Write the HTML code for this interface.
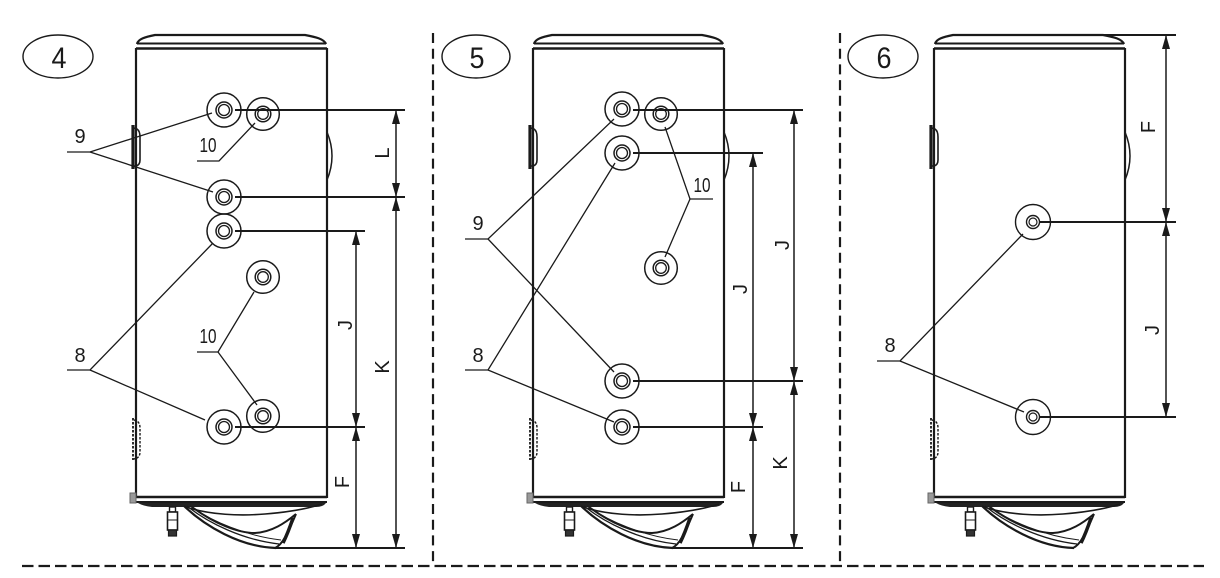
<!DOCTYPE html>
<html><head><meta charset="utf-8"><style>
html,body{margin:0;padding:0;background:#fff;}
svg{display:block;}
text{font-family:"Liberation Sans",Arial,sans-serif;fill:#1a1a1a;}
</style></head><body>
<svg width="1220" height="578" viewBox="0 0 1220 578" xmlns="http://www.w3.org/2000/svg">
<defs>
<g id="tank" fill="none" stroke="#1a1a1a">
  <!-- top cap -->
  <path d="M137,44 C138,39 145,37 155,35 L305,35 C316,37 324,39 326,44" stroke-width="2.2"/>
  <line x1="137" y1="43.5" x2="326" y2="43.5" stroke-width="2"/>
  <line x1="136" y1="48.5" x2="327" y2="48.5" stroke-width="2.6"/>
  <!-- walls -->
  <line x1="136" y1="48" x2="136" y2="498" stroke-width="2.2"/>
  <line x1="327" y1="48" x2="327" y2="498" stroke-width="2.2"/>
  <!-- bottom -->
  <line x1="136" y1="497" x2="327" y2="497" stroke-width="2.4"/>
  <line x1="131" y1="502" x2="327" y2="502" stroke-width="2"/>
  <rect x="130" y="493" width="6" height="10" fill="#999" stroke="#666" stroke-width="1"/>
  <path d="M138,503 L326,503 Q323,507 316,507 L152,507 Q143,506 138,503 Z" fill="#222" stroke="none"/>
  <!-- valve -->
  <rect x="169.5" y="507" width="6" height="5" fill="#fff" stroke-width="1.4"/>
  <rect x="167.5" y="512" width="10" height="18" fill="#fff" stroke-width="1.6"/>
  <line x1="167.5" y1="520" x2="177.5" y2="520" stroke-width="1"/>
  <rect x="168.5" y="530" width="8" height="6" fill="#333" stroke-width="1.2"/>
  <!-- bowl -->
  <path d="M184,506 C205,526 240,547 276,548" stroke-width="2.2"/>
  <path d="M187,506 C208,523 243,540 279,544" stroke-width="1.3"/>
  <path d="M190,506 C211,521 246,536 281,540" stroke-width="1"/>
  <path d="M192,507 C215,524 238,533 255,533 C272,532 285,523 296,514" stroke-width="2"/>
  <path d="M186,507 C210,515 240,516 265,514 C290,512 310,508 322,504" stroke-width="1.6"/>
  <path d="M275,548 C283,545 289,530 296,514" stroke-width="2"/>
  <path d="M283,543 C287,535 290,527 293,518" stroke-width="3.5"/>
  <!-- top-left handle -->
  <line x1="133" y1="125" x2="133" y2="169" stroke-width="3.2"/>
  <path d="M134,128 L137,129 Q140,131 140,137 L140,160 Q140,165 136,166 L134,166" stroke-width="1.6"/>
  <!-- right bump -->
  <path d="M327,132 Q337,156 327,180" stroke-width="1.5"/>
  <!-- bottom dashed handle -->
  <line x1="133" y1="418" x2="133" y2="460" stroke-width="1.8" stroke-dasharray="2.5 1.5"/>
  <path d="M134,420 Q140,421 140,428 L140,452 Q140,458 134,459" stroke-width="1.4" stroke-dasharray="2.5 1.5"/>
</g>
<g id="c1" fill="none" stroke="#1a1a1a">
  <circle r="17" stroke-width="1.5"/>
  <circle r="8" stroke-width="1.5"/>
  <circle r="5.5" stroke-width="1.3"/>
</g>
<g id="c2" fill="none" stroke="#1a1a1a">
  <circle r="16.3" stroke-width="1.5"/>
  <circle r="7.8" stroke-width="1.5"/>
  <circle r="5.3" stroke-width="1.3"/>
</g>
<g id="c3" fill="none" stroke="#1a1a1a">
  <circle r="17.5" stroke-width="1.4"/>
  <circle r="6.5" stroke-width="1.4"/>
  <circle r="4" stroke-width="1.2"/>
</g>
</defs>

<rect width="1220" height="578" fill="#fff"/>

<!-- tanks -->
<use href="#tank"/>
<use href="#tank" x="397"/>
<use href="#tank" x="798"/>

<!-- dashed separators -->
<g stroke="#1a1a1a" fill="none">
  <line x1="22" y1="566" x2="1204" y2="566" stroke-width="2.3" stroke-dasharray="11.5 5"/>
  <line x1="433" y1="33" x2="433" y2="566" stroke-width="2.2" stroke-dasharray="10 5.7"/>
  <line x1="840" y1="33" x2="840" y2="566" stroke-width="2.2" stroke-dasharray="10 5.7"/>
</g>

<!-- label ellipses -->
<g fill="none" stroke="#1a1a1a" stroke-width="1.4">
  <ellipse cx="58" cy="56.5" rx="35" ry="21.5"/>
  <ellipse cx="476" cy="56.5" rx="34" ry="21.5"/>
  <ellipse cx="883" cy="56.5" rx="35" ry="21.5"/>
</g>
<g font-size="30" text-anchor="middle">
  <text x="59" y="68" textLength="15" lengthAdjust="spacingAndGlyphs">4</text>
  <text x="477" y="68" textLength="15" lengthAdjust="spacingAndGlyphs">5</text>
  <text x="884" y="68" textLength="15" lengthAdjust="spacingAndGlyphs">6</text>
</g>

<!-- PANEL 1 -->
<g stroke="#1a1a1a" fill="none">
  <!-- extension lines -->
  <g stroke-width="2">
    <line x1="235" y1="110" x2="405" y2="110"/>
    <line x1="235" y1="197" x2="405" y2="197"/>
    <line x1="235" y1="231" x2="365" y2="231"/>
    <line x1="235" y1="427" x2="365" y2="427"/>
    <line x1="275" y1="548" x2="405" y2="548"/>
  </g>
  <!-- dimension lines -->
  <g stroke-width="1.5">
    <line x1="396" y1="110" x2="396" y2="548"/>
    <line x1="356" y1="231" x2="356" y2="548"/>
  </g>
  <!-- leaders -->
  <g stroke-width="1.3">
    <polyline points="67,152 90,152 212,113"/>
    <line x1="90" y1="152" x2="213" y2="192"/>
    <polyline points="197,161 219,161 255,123"/>
    <polyline points="197,352 218,352 254,292"/>
    <line x1="218" y1="352" x2="257" y2="405"/>
    <polyline points="67,370 90,370 213,243"/>
    <line x1="90" y1="370" x2="205" y2="420"/>
  </g>
</g>
<use href="#c1" x="224" y="110"/>
<use href="#c2" x="263" y="114"/>
<use href="#c1" x="224" y="197"/>
<use href="#c1" x="224" y="231"/>
<use href="#c2" x="263" y="277"/>
<use href="#c2" x="263" y="416"/>
<use href="#c1" x="224" y="427"/>
<g fill="#1a1a1a">
  <polygon points="396,110 392,124 400,124"/>
  <polygon points="396,197 392,183 400,183"/>
  <polygon points="396,197 392,211 400,211"/>
  <polygon points="396,548 392,534 400,534"/>
  <polygon points="356,231 352,245 360,245"/>
  <polygon points="356,427 352,413 360,413"/>
  <polygon points="356,427 352,441 360,441"/>
  <polygon points="356,548 352,534 360,534"/>
</g>
<g font-size="20" text-anchor="middle">
  <text x="80" y="143">9</text>
  <text x="208" y="152" textLength="17" lengthAdjust="spacingAndGlyphs">10</text>
  <text x="208" y="343" textLength="17" lengthAdjust="spacingAndGlyphs">10</text>
  <text x="80" y="362">8</text>
</g>
<g font-size="20" text-anchor="middle" dominant-baseline="central">
  <text transform="translate(383,153) rotate(-90)">L</text>
  <text transform="translate(346,325) rotate(-90)">J</text>
  <text transform="translate(383,367) rotate(-90)">K</text>
  <text transform="translate(343,482) rotate(-90)">F</text>
</g>

<!-- PANEL 2 -->
<g stroke="#1a1a1a" fill="none">
  <g stroke-width="2">
    <line x1="633" y1="110" x2="803" y2="110"/>
    <line x1="633" y1="153" x2="763" y2="153"/>
    <line x1="633" y1="381" x2="803" y2="381"/>
    <line x1="633" y1="427" x2="763" y2="427"/>
    <line x1="672" y1="548" x2="803" y2="548"/>
  </g>
  <g stroke-width="1.5">
    <line x1="794" y1="110" x2="794" y2="548"/>
    <line x1="753" y1="153" x2="753" y2="548"/>
  </g>
  <g stroke-width="1.3">
    <polyline points="465,239 488,239 614,119"/>
    <line x1="488" y1="239" x2="614" y2="372"/>
    <polyline points="465,370 488,370 615,163"/>
    <line x1="488" y1="370" x2="614" y2="422"/>
    <polyline points="713,199 690,199 665,127"/>
    <line x1="690" y1="199" x2="665" y2="257"/>
  </g>
</g>
<use href="#c1" x="622" y="109"/>
<use href="#c2" x="661" y="114"/>
<use href="#c1" x="622" y="153"/>
<use href="#c2" x="661" y="268"/>
<use href="#c1" x="622" y="381"/>
<use href="#c1" x="622" y="427"/>
<g fill="#1a1a1a">
  <polygon points="794,110 790,124 798,124"/>
  <polygon points="794,381 790,367 798,367"/>
  <polygon points="794,381 790,395 798,395"/>
  <polygon points="794,548 790,534 798,534"/>
  <polygon points="753,153 749,167 757,167"/>
  <polygon points="753,427 749,413 757,413"/>
  <polygon points="753,427 749,441 757,441"/>
  <polygon points="753,548 749,534 757,534"/>
</g>
<g font-size="20" text-anchor="middle">
  <text x="478" y="230">9</text>
  <text x="478" y="362">8</text>
  <text x="702" y="192" textLength="17" lengthAdjust="spacingAndGlyphs">10</text>
</g>
<g font-size="20" text-anchor="middle" dominant-baseline="central">
  <text transform="translate(783,245) rotate(-90)">J</text>
  <text transform="translate(741,289) rotate(-90)">J</text>
  <text transform="translate(781,463) rotate(-90)">K</text>
  <text transform="translate(739,487) rotate(-90)">F</text>
</g>

<!-- PANEL 3 -->
<g stroke="#1a1a1a" fill="none">
  <g stroke-width="2">
    <line x1="1103" y1="35" x2="1176" y2="35"/>
    <line x1="1040" y1="222" x2="1176" y2="222"/>
    <line x1="1040" y1="417" x2="1176" y2="417"/>
  </g>
  <line x1="1166" y1="35" x2="1166" y2="417" stroke-width="1.5"/>
  <g stroke-width="1.3">
    <polyline points="877,361 900,361 1023,234"/>
    <line x1="900" y1="361" x2="1024" y2="412"/>
  </g>
</g>
<use href="#c3" x="1033" y="222"/>
<use href="#c3" x="1033" y="417"/>
<g fill="#1a1a1a">
  <polygon points="1166,35 1162,49 1170,49"/>
  <polygon points="1166,222 1162,208 1170,208"/>
  <polygon points="1166,222 1162,236 1170,236"/>
  <polygon points="1166,417 1162,403 1170,403"/>
</g>
<g font-size="20" text-anchor="middle">
  <text x="890" y="352">8</text>
</g>
<g font-size="20" text-anchor="middle" dominant-baseline="central">
  <text transform="translate(1149,127) rotate(-90)">F</text>
  <text transform="translate(1153,330) rotate(-90)">J</text>
</g>
</svg>
</body></html>
